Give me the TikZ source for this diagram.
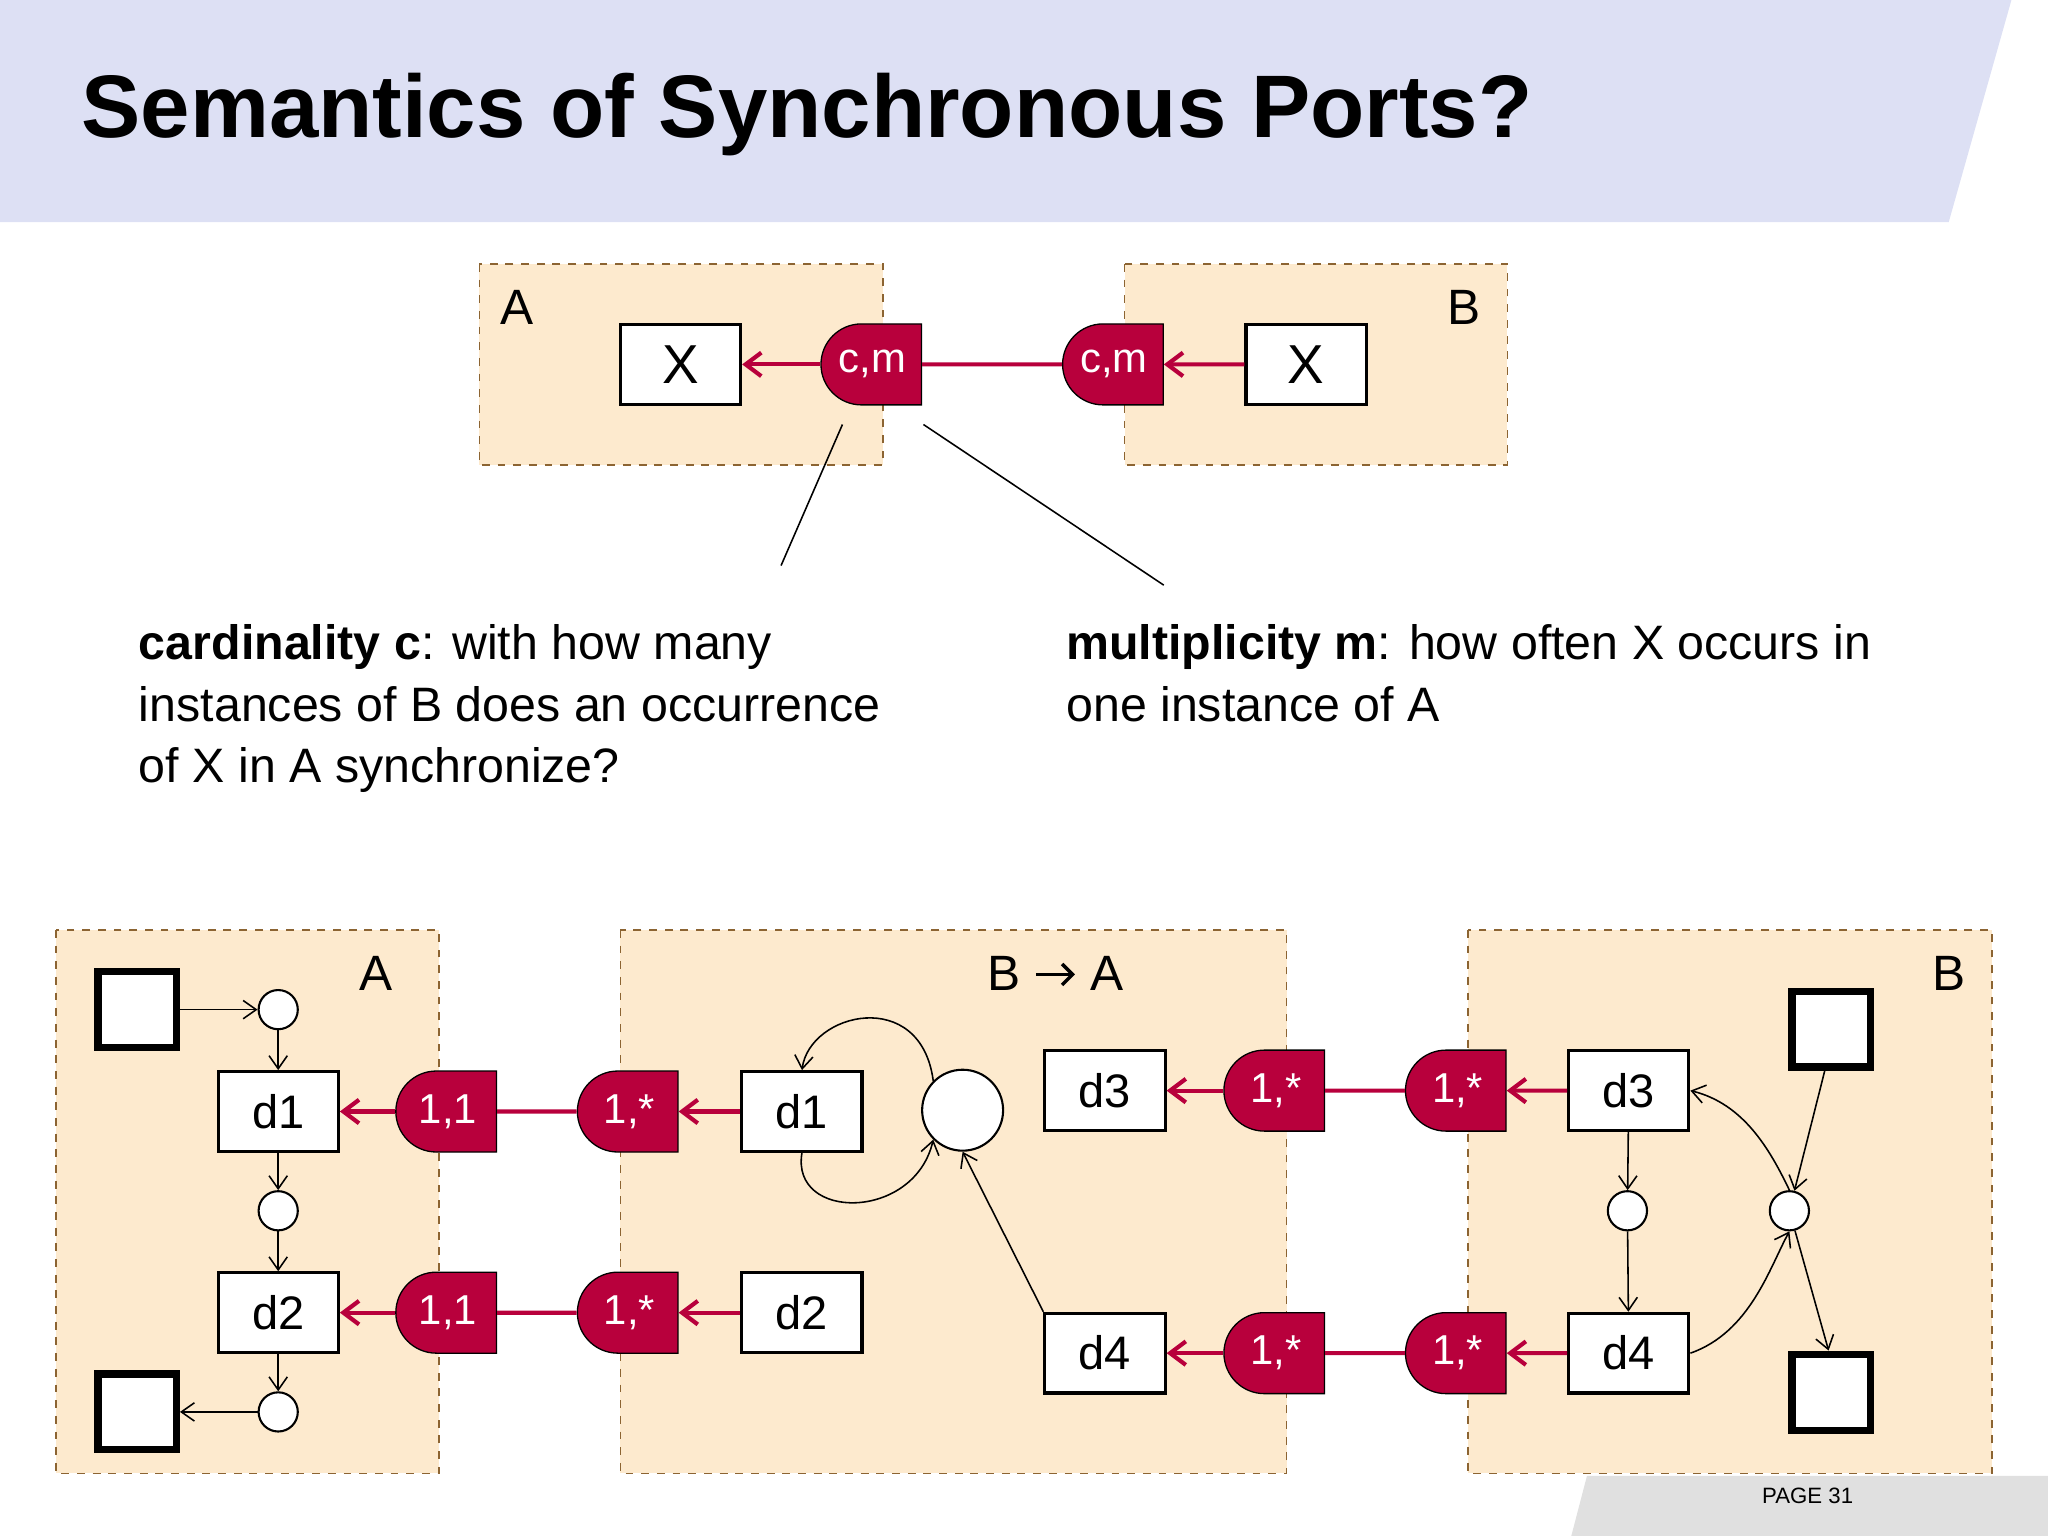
\documentclass[tikz,border=0pt]{standalone}
\usepackage{fontspec}
\setmainfont{Liberation Sans}
\usetikzlibrary{shapes.misc,arrows.meta}
\definecolor{port}{RGB}{184,0,60}
\definecolor{peach}{RGB}{253,234,206}
\definecolor{brd}{RGB}{140,100,50}
\definecolor{head}{RGB}{221,224,244}
\begin{document}
\begin{tikzpicture}[x=0.5pt,y=-0.5pt,
 comp/.style={draw=brd,dashed,fill=peach,line width=0.6pt},
 box/.style={draw,line width=1.2pt,fill=white,minimum width=46pt,minimum height=30.5pt,inner sep=0pt,font=\fontsize{18}{20}\selectfont},
 bigsq/.style={draw,line width=2.8pt,fill=white,minimum width=30pt,minimum height=29pt,inner sep=0pt},
 pt/.style={rounded rectangle,rounded rectangle right arc=none,fill=port,draw=black,line width=0.5pt,text=white,minimum width=38.5pt,minimum height=31pt,inner sep=0pt,font=\fontsize{16}{18}\selectfont},
 circ/.style={circle,draw,fill=white,minimum size=15pt,inner sep=0pt,line width=0.8pt},
 pa/.style={draw=port,line width=1.6pt,-{Straight Barb[length=6pt,width=9pt]}},
 pl/.style={draw=port,line width=1.6pt},
 ar/.style={-{Straight Barb[length=5pt,width=7pt]},line width=0.6pt},
 lbl/.style={font=\fontsize{19}{21}\selectfont},
 txt/.style={font=\fontsize{18.5}{23.5}\selectfont,align=left,anchor=north west,inner sep=0pt}]
\useasboundingbox (0,0) rectangle (1568,1176);
% header
\fill[head] (0,0) -- (1540,0) -- (1492,170) -- (0,170) -- cycle;
\node[anchor=west,inner sep=0pt,font=\fontsize{34}{40}\bfseries\selectfont] (title) at (62,88) {Semantics of Synchronous Ports?};
% footer
\fill[black!12] (1215,1130) -- (1568,1130) -- (1568,1176) -- (1203,1176) -- cycle;
\node[font=\fontsize{8.5}{10}\selectfont] (page) at (1384,1145) {PAGE 31};
% top
\draw[comp] (367,202) rectangle (676,356);
\draw[comp] (861,202) rectangle (1154,356);
\node[lbl] (tA) at (396,235) {A};
\node[lbl] (tB) at (1121,235) {B};
\node[box,font=\fontsize{21}{22}\selectfont] (xa) at (521,279) {X};
\node[box,font=\fontsize{21}{22}\selectfont] (xb) at (1000,279) {X};
\node[pt] (pa) at (668,279) {c,m};
\node[pt] (pb) at (853,279) {c,m};
\draw[pl] (pa) -- (pb);
\draw[pa] (pa) -- (xa);
\draw[pa] (xb) -- (pb);
\coordinate (c1) at (645,325); \coordinate (c2) at (598,433);
\coordinate (c3) at (707,325); \coordinate (c4) at (891,448);
\draw[line width=0.6pt] (c1) -- (c2);
\draw[line width=0.6pt] (c3) -- (c4);
\node[txt] (t1) at (106,478) {\textbf{cardinality c}: with how many\\instances of B does an occurrence\\of X in A synchronize?};
\node[txt] (t2) at (816,478) {\textbf{multiplicity m}: how often X occurs in\\one instance of A};
% bottom boxes
\draw[comp] (43,712) rectangle (336,1128);
\draw[comp] (475,712) rectangle (985,1128);
\draw[comp] (1124,712) rectangle (1525,1128);
\node[lbl] (lA) at (288,745) {A};
\node[lbl] (lBA) at (808,745) {B \tikz[baseline=-0.6ex]\draw[line width=1.3pt,-{Straight Barb[length=4pt,width=8pt]}] (0,0)--(15pt,0); A};
\node[lbl] (lB) at (1492,745) {B};
% A
\node[bigsq] (s1) at (105,773) {};
\node[circ] (a1) at (213,773) {};
\node[box] (ad1) at (213,851) {d1};
\node[circ] (a2) at (213,927) {};
\node[box] (ad2) at (213,1005) {d2};
\node[circ] (a3) at (213,1081) {};
\node[bigsq] (s2) at (105,1081) {};
\draw[ar] (s1) -- (a1);
\draw[ar] (a1) -- (ad1);
\draw[ar] (ad1) -- (a2);
\draw[ar] (a2) -- (ad2);
\draw[ar] (ad2) -- (a3);
\draw[ar] (a3) -- (s2);
% ports A-BA
\node[pt] (p1) at (343,851) {1,1};
\node[pt] (p2) at (482,851) {1,*};
\node[pt] (p3) at (343,1005) {1,1};
\node[pt] (p4) at (482,1005) {1,*};
\node[box] (bd1) at (614,851) {d1};
\node[box] (bd2) at (614,1005) {d2};
\draw[pl] (p1) -- (p2); \draw[pl] (p3) -- (p4);
\draw[pa] (p1) -- (ad1); \draw[pa] (p3) -- (ad2);
\draw[pa] (bd1) -- (p2); \draw[pa] (bd2) -- (p4);
% B->A
\node[circ,minimum size=31pt] (bc) at (737,850) {};
\node[box] (bd3) at (846,835) {d3};
\node[box] (bd4) at (846,1036) {d4};
\draw[ar] (bc.north west) .. controls (705,755) and (620,775) .. (bd1.north);
\draw[ar] (bd1.south) .. controls (605,935) and (700,935) .. (bc.south west);
\draw[ar] (bd4.north west) -- (bc.south);
% ports BA-B
\node[pt] (q1) at (977,835) {1,*};
\node[pt] (q2) at (1116,835) {1,*};
\node[pt] (q3) at (977,1036) {1,*};
\node[pt] (q4) at (1116,1036) {1,*};
\node[box] (cd3) at (1247,835) {d3};
\node[box] (cd4) at (1247,1036) {d4};
\draw[pl] (q1) -- (q2); \draw[pl] (q3) -- (q4);
\draw[pa] (q1) -- (bd3); \draw[pa] (q3) -- (bd4);
\draw[pa] (cd3) -- (q2); \draw[pa] (cd4) -- (q4);
% B
\node[circ] (b1) at (1246,927) {};
\node[circ] (b2) at (1370,927) {};
\node[bigsq] (s3) at (1402,788) {};
\node[bigsq] (s4) at (1402,1066) {};
\coordinate (s3b) at (1397,820);
\coordinate (s4t) at (1400,1034);
\draw[ar] (cd3) -- (b1);
\draw[ar] (b1) -- (cd4);
\draw[ar] (s3b) -- (b2);
\draw[ar] (b2) -- (s4t);
\draw[ar] (cd4.east) .. controls (1340,1020) and (1355,970) .. (b2.south);
\draw[ar] (b2.north) .. controls (1355,880) and (1335,845) .. (cd3.east);
\end{tikzpicture}
\end{document}
